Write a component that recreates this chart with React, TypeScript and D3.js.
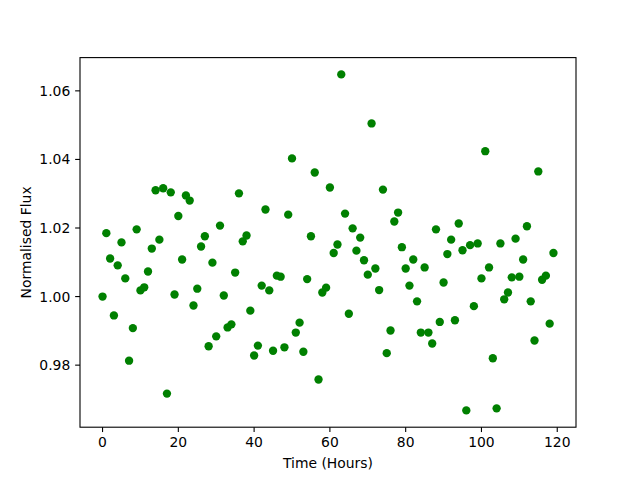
import React from "react";
import * as d3 from "d3";

const timeHours: number[] = Array.from({ length: 120 }, (_, i) => i);
const flux: number[] = [
  1.0, 1.0185, 1.0111, 0.9945, 1.0091, 1.0158, 1.0053, 0.9813, 0.9908, 1.0196,
  1.0018, 1.0027, 1.0073, 1.014, 1.031, 1.0166, 1.0316, 0.9717, 1.0304, 1.0006,
  1.0235, 1.0108, 1.0295, 1.028, 0.9974, 1.0023, 1.0146, 1.0176, 0.9855, 1.0099,
  0.9884, 1.0207, 1.0003, 0.991, 0.9919, 1.007, 1.0301, 1.0161, 1.0178, 0.9959,
  0.9828, 0.9857, 1.0032, 1.0254, 1.0018, 0.9842, 1.0061, 1.0058, 0.9852, 1.0239,
  1.0403, 0.9895, 0.9924, 0.9839, 1.0051, 1.0176, 1.0362, 0.9758, 1.0012, 1.0026,
  1.0318, 1.0127, 1.0152, 1.0648, 1.0242, 0.995, 1.0199, 1.0134, 1.0172, 1.0106,
  1.0064, 1.0505, 1.0082, 1.0019, 1.0312, 0.9835, 0.9901, 1.0219, 1.0245, 1.0144,
  1.0082, 1.0032, 1.0108, 0.9986, 0.9895, 1.0085, 0.9895, 0.9863, 1.0196, 0.9926,
  1.0041, 1.0124, 1.0166, 0.9931, 1.0213, 1.0135, 0.9668, 1.015, 0.9972, 1.0155,
  1.0053, 1.0424, 1.0085, 0.982, 0.9674, 1.0155, 0.9992, 1.0012, 1.0056, 1.0169,
  1.0058, 1.0108, 1.0205, 0.9986, 0.9872, 1.0365, 1.0049, 1.0061, 0.9921, 1.0127,
];
const xTicks: number[] = [0, 20, 40, 60, 80, 100, 120];
const yTicks: number[] = [0.98, 1.0, 1.02, 1.04, 1.06];
const xLabel = "Time (Hours)";
const yLabel = "Normalised Flux";

const W = 640;
const H = 480;
const left = 80;
const right = 576;
const top = 57.6;
const bottom = 427.2;
const font = "DejaVu Sans, sans-serif";
const fs = 13.9;
const tickLen = 4.86;

export default function App() {
  const xMin = d3.min(timeHours)!;
  const xMax = d3.max(timeHours)!;
  const yMin = d3.min(flux)!;
  const yMax = d3.max(flux)!;
  const xm = (xMax - xMin) * 0.05;
  const ym = (yMax - yMin) * 0.05;
  const x = d3.scaleLinear().domain([xMin - xm, xMax + xm]).range([left, right]);
  const y = d3.scaleLinear().domain([yMin - ym, yMax + ym]).range([bottom, top]);

  return (
    <svg
      width={W}
      height={H}
      style={{ position: "absolute", left: 0, top: 0, background: "#fff" }}
    >
      <rect x={0} y={0} width={W} height={H} fill="#fff" />
      {flux.map((v, i) => (
        <circle key={i} cx={x(timeHours[i])} cy={y(v)} r={4.17} fill="#008000" />
      ))}
      <rect
        x={left}
        y={top}
        width={right - left}
        height={bottom - top}
        fill="none"
        stroke="#000"
        strokeWidth={1.1}
      />
      {xTicks.map((t) => (
        <g key={"x" + t}>
          <line x1={x(t)} x2={x(t)} y1={bottom} y2={bottom + tickLen} stroke="#000" strokeWidth={1.1} />
          <text
            x={x(t)}
            y={bottom + tickLen * 2 + fs * 0.76}
            textAnchor="middle"
            fontFamily={font}
            fontSize={fs}
            fill="#000"
          >
            {t}
          </text>
        </g>
      ))}
      {yTicks.map((t) => (
        <g key={"y" + t}>
          <line x1={left - tickLen} x2={left} y1={y(t)} y2={y(t)} stroke="#000" strokeWidth={1.1} />
          <text
            x={left - tickLen * 2}
            y={y(t)}
            dy="0.36em"
            textAnchor="end"
            fontFamily={font}
            fontSize={fs}
            fill="#000"
          >
            {t.toFixed(2)}
          </text>
        </g>
      ))}
      <text
        x={(left + right) / 2}
        y={468}
        textAnchor="middle"
        fontFamily={font}
        fontSize={fs}
        fill="#000"
      >
        {xLabel}
      </text>
      <text
        transform={`translate(31,${(top + bottom) / 2}) rotate(-90)`}
        textAnchor="middle"
        fontFamily={font}
        fontSize={fs}
        fill="#000"
      >
        {yLabel}
      </text>
    </svg>
  );
}
